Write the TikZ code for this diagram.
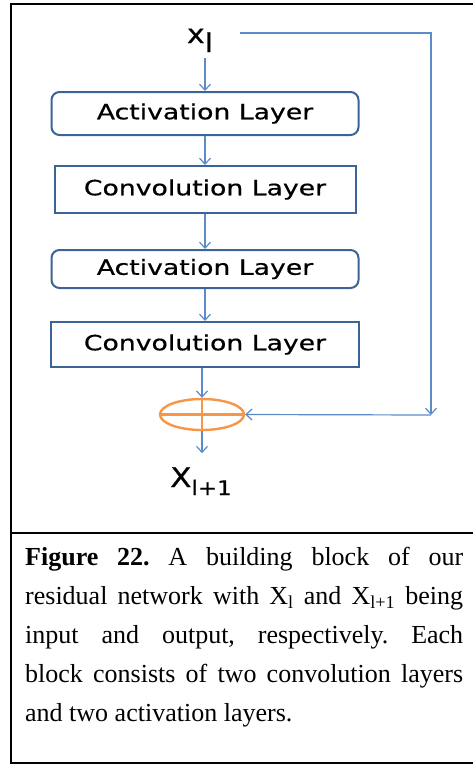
\documentclass[tikz,border=0pt]{standalone}
\usepackage{fontspec}
\setmainfont{Liberation Serif}
\newfontfamily\boxfont[FakeStretch=1.27,FakeBold=0.6]{DejaVu Sans}
\newfontfamily\lblfont[FakeStretch=1.15,FakeBold=0.6]{DejaVu Sans}
\usetikzlibrary{arrows.meta,shapes.geometric}
\definecolor{boxblue}{HTML}{3C6496}
\definecolor{arrblue}{HTML}{5B8CC8}
\definecolor{sumorange}{HTML}{F79646}
\tikzset{
  layerbox/.style={draw=boxblue, line width=2pt, minimum width=#1, inner sep=0pt,
     font=\boxfont\fontsize{21}{24}\selectfont, text=black},
  actbox/.style={layerbox=307pt, rounded corners=8pt},
  convbox/.style={layerbox=301pt},
  arr/.style={draw=arrblue, line width=1.2pt, -{Straight Barb[length=6pt,width=11pt]}},
  frame/.style={line width=2pt, black},
  sumnode/.style={draw=sumorange, line width=2.4pt, ellipse, minimum width=84pt, minimum height=31pt, inner sep=0pt}
}
\begin{document}
\begin{tikzpicture}[x=1pt,y=-1pt]
\useasboundingbox (0,0) rectangle (472,766);
% frame
\draw[frame] (11,3.7) -- (476,3.7);
\draw[frame] (11,2.7) -- (11,764);
\draw[frame] (11,532.5) -- (476,532.5);
\draw[frame] (11,763) -- (476,763);
% input label
\node[anchor=base, inner sep=0pt, font=\lblfont\fontsize{26}{28}\selectfont] (xl) at (200,43) {x\raisebox{-9pt}{l}};
% layers
\node[actbox, minimum height=43pt] (act1) at (205,113.5) {Activation Layer};
\node[convbox, minimum height=47pt] (conv1) at (205,189.5) {Convolution Layer};
\node[actbox, minimum height=38pt] (act2) at (205,269) {Activation Layer};
\node[convbox, minimum width=308pt, minimum height=45pt] (conv2) at (205,344.5) {Convolution Layer};
% sum
\node[sumnode] (sum) at (202,414.5) {};
\draw[draw=sumorange, line width=2.4pt] (sum.north) -- (sum.south);
\draw[draw=sumorange, line width=2.4pt] (sum.west) -- (sum.east);
% output label
\node[anchor=base, inner sep=0pt, font=\lblfont\fontsize{27}{30}\selectfont] (xout) at (201,487) {X\raisebox{-8pt}{\fontsize{20}{24}\selectfont l+1}};
% main arrows
\coordinate (tapin) at (205,58);
\draw[arr] (tapin) -- (act1.north);
\draw[arr] (act1.south) -- (conv1.north);
\draw[arr] (conv1.south) -- (act2.north);
\draw[arr] (act2.south) -- (conv2.north);
\draw[arr] (sum.north |- conv2.south) -- (sum.north);
\draw[arr] (sum.south) -- ++(0,22);
% skip connection
\coordinate (skipstart) at (240,33);
\coordinate (skipcorner) at (431,415);
\draw[arr] (skipstart) -| (skipcorner);
\draw[arr] (skipcorner) -- (sum.east);
% caption
\node[anchor=base west, inner sep=0pt, text width=438pt, align=justify,
      font=\fontsize{26}{39}\selectfont] (cap) at (25,565)
{\frenchspacing\textbf{Figure 22.} A building block of our\linebreak
residual network with X\textsubscript{l} and X\textsubscript{l+1} being\linebreak
input and output, respectively. Each\linebreak
block consists of two convolution layers\linebreak
and two activation layers.};
\end{tikzpicture}
\end{document}
